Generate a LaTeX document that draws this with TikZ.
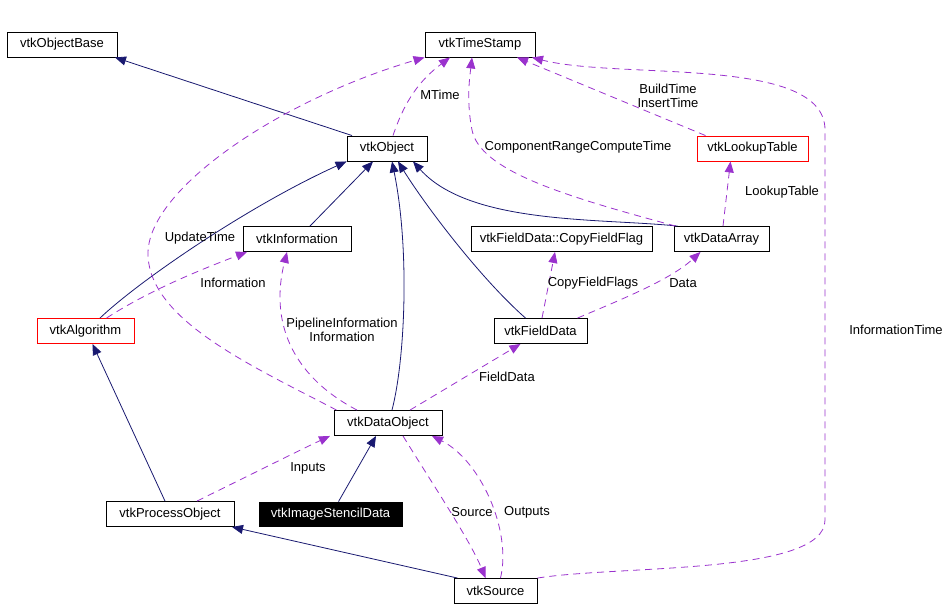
\documentclass[tikz,border=0pt]{standalone}
\usepackage{fontspec}
\setmainfont{Liberation Sans}
\usetikzlibrary{arrows.meta}

\definecolor{inhblue}{HTML}{191970}
\definecolor{collpurple}{HTML}{9A32CD}

\begin{document}
\begin{tikzpicture}[x=1pt, y=-1pt,
  font=\fontsize{13}{14.5}\selectfont,
  bx/.style={draw=black, line width=0.9pt, minimum height=25pt, inner sep=2pt},
  redbx/.style={bx, draw=red},
  dark/.style={bx, fill=black, text=white},
  lbl/.style={inner sep=0pt, align=center},
  inh/.style={-{Triangle[length=11pt,width=9pt]}, inhblue, line width=0.8pt},
  coll/.style={-{Triangle[length=11pt,width=9pt]}, collpurple, line width=0.8pt,
               dash pattern=on 7pt off 5pt}
]
\useasboundingbox (0,0) rectangle (952,611);

% classes
\node[bx, minimum width=110pt]    (objbase) at (62,44.5)   {vtkObjectBase};
\node[bx, minimum width=110pt]    (ts)      at (480,44.5)  {vtkTimeStamp};
\node[bx, minimum width=80pt]     (obj)     at (387,148.5) {vtkObject};
\node[redbx, minimum width=111pt] (lut)     at (752.5,148.5) {vtkLookupTable};
\node[bx, minimum width=108pt]    (info)    at (297,239)   {vtkInformation};
\node[bx, minimum width=181pt]    (cff)     at (561.5,239) {vtkFieldData::CopyFieldFlag};
\node[bx, minimum width=95pt]     (da)      at (721.5,239) {vtkDataArray};
\node[redbx, minimum width=97pt]  (alg)     at (85.5,331)  {vtkAlgorithm};
\node[bx, minimum width=93pt]     (fd)      at (540.5,331) {vtkFieldData};
\node[bx, minimum width=108pt]    (dobj)    at (388,423)   {vtkDataObject};
\node[bx, minimum width=128pt]    (po)      at (170,514)   {vtkProcessObject};
\node[dark, minimum width=143pt, minimum height=24pt] (isd) at (330.5,514) {vtkImageStencilData};
\node[bx, minimum width=83pt]     (src)     at (495.5,591) {vtkSource};

% inheritance
\draw[inh] ([xshift=-35pt]obj.north) -- ([xshift=53pt]objbase.south);
\draw[inh] ([xshift=14.5pt]alg.north) .. controls (140,280) and (250,205) .. (obj.south west);
\draw[inh] ([xshift=13pt]info.north) -- ([xshift=-14pt]obj.south);
\draw[inh] ([xshift=4pt]dobj.north) .. controls (405,360) and (410,250) .. ([xshift=5pt]obj.south);
\draw[inh] ([xshift=-15pt]fd.north) .. controls (480,278) and (425,205) .. ([xshift=11pt]obj.south);
\draw[inh] ([xshift=-44pt]da.north) .. controls (600,218) and (470,225) .. ([xshift=26pt]obj.south);
\draw[inh] ([xshift=-5pt]po.north) -- ([xshift=7pt]alg.south);
\draw[inh] ([xshift=8pt]isd.north) -- ([xshift=-12pt]dobj.south);
\draw[inh] ([xshift=-38pt]src.north) -- ([xshift=62pt]po.south);

% usage
\draw[coll] ([xshift=6pt]obj.north) .. controls (405,100) and (420,80) .. ([xshift=-30pt]ts.south);
\draw[coll] ([xshift=3pt]dobj.north west) .. controls (250,365) and (150,320) .. (148,255)
  .. controls (146,190) and (280,100) .. (ts.south west);
\draw[coll] ([xshift=-46pt]da.north) .. controls (560,195) and (480,170) .. (472,130)
  .. controls (466,100) and (470,75) .. ([xshift=-8pt]ts.south);
\draw[coll] ([xshift=-47pt]lut.north) -- ([xshift=37pt]ts.south);
\draw[coll] (src.north east) .. controls (620,565) and (825,575) .. (825,520) -- (825,130)
  .. controls (825,55) and (620,80) .. ([xshift=52pt]ts.south);
\draw[coll] ([xshift=21pt]alg.north) .. controls (150,290) and (200,270) .. ([xshift=-50pt]info.south);
\draw[coll] ([xshift=-31pt]dobj.north) .. controls (290,375) and (270,320) .. ([xshift=-10pt]info.south);
\draw[coll] ([xshift=1.5pt]da.north) -- ([xshift=-22pt]lut.south);
\draw[coll] ([xshift=1.5pt]fd.north) -- ([xshift=-6.5pt]cff.south);
\draw[coll] ([xshift=37pt]fd.north) .. controls (620,300) and (670,280) .. ([xshift=-21pt]da.south);
\draw[coll] ([xshift=22pt]dobj.north) -- ([xshift=-20pt]fd.south);
\draw[coll] ([xshift=27pt]po.north) .. controls (250,475) and (300,450) .. ([xshift=-58pt]dobj.south);
\draw[coll] ([xshift=15pt]dobj.south) .. controls (430,480) and (470,540) .. ([xshift=-10pt]src.north);
\draw[coll] ([xshift=5pt]src.north) .. controls (512,530) and (480,460) .. ([xshift=44pt]dobj.south);

% edge labels
\node[lbl] (lmtime) at (440,95)  {MTime};
\node[lbl] (lupd)   at (200,238) {UpdateTime};
\node[lbl] (lcomp)  at (578,147) {ComponentRangeComputeTime};
\node[lbl] (lbuild) at (668,96)  {BuildTime\\InsertTime};
\node[lbl] (linft)  at (896,330) {InformationTime};
\node[lbl] (linfo)  at (233,283) {Information};
\node[lbl] (lpipe)  at (342,330) {PipelineInformation\\Information};
\node[lbl] (llut)   at (782,192) {LookupTable};
\node[lbl] (lcff)   at (593,283) {CopyFieldFlags};
\node[lbl] (ldata)  at (683,283) {Data};
\node[lbl] (lfd)    at (507,377) {FieldData};
\node[lbl] (linp)   at (308,468) {Inputs};
\node[lbl] (lsrc)   at (472,512) {Source};
\node[lbl] (lout)   at (527,512) {Outputs};
\end{tikzpicture}
\end{document}
